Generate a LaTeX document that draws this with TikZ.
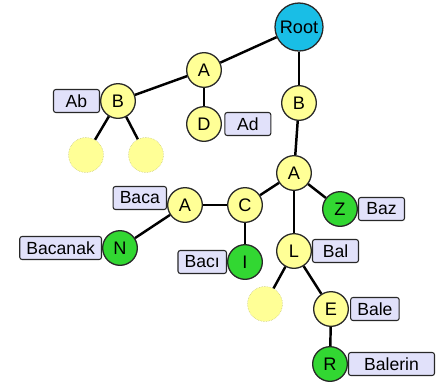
\documentclass[tikz,border=0pt]{standalone}
\usepackage{fontspec}
\setmainfont{Liberation Sans}
\usetikzlibrary{positioning}

\definecolor{letterfill}{RGB}{255,255,150}
\definecolor{rootfill}{RGB}{25,190,230}
\definecolor{wordfill}{RGB}{50,215,50}
\definecolor{tagfill}{RGB}{225,225,250}
\definecolor{rimcolor}{RGB}{40,40,40}

\tikzset{
    letter/.style={circle, draw=rimcolor, line width=1.1pt, fill=letterfill,
        minimum size=1.04cm, inner sep=0pt, font=\fontsize{15.5}{18}\selectfont},
    rootletter/.style={letter, fill=rootfill, minimum size=1.44cm},
    wordend/.style={letter, fill=wordfill},
    emptyslot/.style={circle, draw=letterfill!70!black, densely dotted,
        fill=letterfill, minimum size=1.05cm, inner sep=0pt},
    wordtag/.style={draw=rimcolor, line width=0.9pt, fill=tagfill, rounded corners=2pt,
        minimum height=0.69cm, minimum width=1.38cm, inner xsep=0.2cm, inner ysep=0pt,
        font=\fontsize{15}{18}\selectfont},
    branch/.style={line width=2.1pt}
}

\begin{document}
\begin{tikzpicture}[x=0.03cm, y=-0.03cm]
    % Fix the page to the size of the reference
    \useasboundingbox (0,0) rectangle (436,382);

    % Define the letters of the trie
    \node[rootletter] (root) at (299,27) {Root};
    \node[letter] (a1) at (204,70) {A};
    \node[letter] (b1) at (118,101) {B};
    \node[letter] (d1) at (204,124) {D};
    \node[emptyslot] (e1) at (86,155) {};
    \node[emptyslot] (e2) at (146,155) {};

    \node[letter] (b2) at (299,103) {B};
    \node[letter] (a2) at (294,173) {A};
    \node[letter] (c2) at (245,205) {C};
    \node[letter] (a3) at (185,205) {A};
    \node[wordend] (n3) at (120,248) {N};
    \node[wordend] (i2) at (245,262) {I};
    \node[wordend] (z2) at (340,209) {Z};
    \node[letter] (l2) at (294,251) {L};
    \node[emptyslot] (e3) at (265,304) {};
    \node[letter] (e4) at (331,309) {E};
    \node[wordend] (r4) at (330,364) {R};

    % Draw the branches
    \draw[branch] (root) -- (a1);
    \draw[branch] (a1) -- (b1);
    \draw[branch] (a1) -- (d1);
    \draw[branch] (b1) -- (e1);
    \draw[branch] (b1) -- (e2);
    \draw[branch] (root) -- (b2);
    \draw[branch] (b2) -- (a2);
    \draw[branch] (a2) -- (c2);
    \draw[branch] (a2) -- (z2);
    \draw[branch] (a2) -- (l2);
    \draw[branch] (c2) -- (a3);
    \draw[branch] (c2) -- (i2);
    \draw[branch] (a3) -- (n3);
    \draw[branch] (l2) -- (e3);
    \draw[branch] (l2) -- (e4);
    \draw[branch] (e4) -- (r4);

    % Draw the word tags beside the letters
    \node[wordtag, left=0pt of b1] (ab) {Ab};
    \node[wordtag, right=2pt of d1] (ad) {Ad};
    \node[wordtag, left=0pt of a3, yshift=0.21cm] (baca) {Baca};
    \node[wordtag, left=0pt of n3] (bacanak) {Bacanak};
    \node[wordtag, left=0pt of i2] (baci) {Bacı};
    \node[wordtag, right=0pt of z2] (baz) {Baz};
    \node[wordtag, right=0pt of l2] (bal) {Bal};
    \node[wordtag, right=1pt of e4] (bale) {Bale};
    \node[wordtag, right=0pt of r4, minimum width=2.58cm] (balerin) {Balerin};
\end{tikzpicture}
\end{document}
